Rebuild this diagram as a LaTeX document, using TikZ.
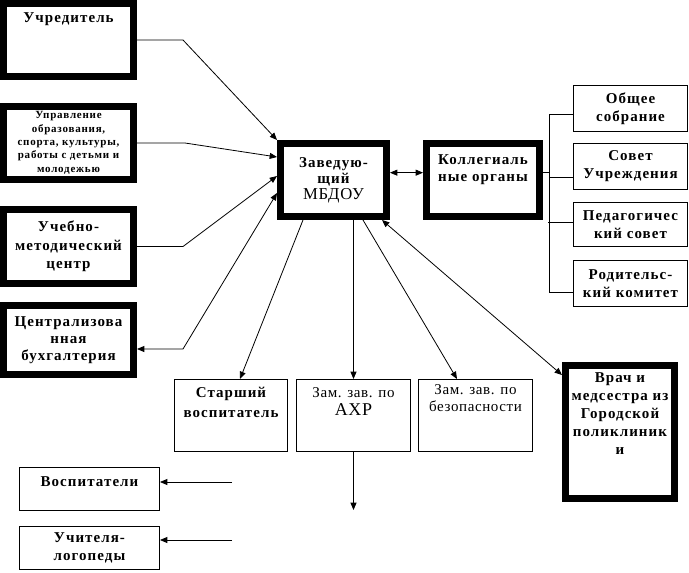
\documentclass[tikz,border=0pt]{standalone}
\usepackage{fontspec}
\setmainfont[LetterSpace=4, BoldFeatures={LetterSpace=7}]{Liberation Serif}
\usetikzlibrary{arrows.meta, positioning}

\begin{document}
\begin{tikzpicture}[
    x=0.75pt, y=-0.75pt,
    >={Triangle[length=5.5pt, width=4.5pt]},
    heavy/.style={rectangle, draw, line width=5.25pt, inner sep=0pt, minimum width=#1},
    light/.style={rectangle, draw, line width=0.75pt, inner sep=0pt, minimum width=#1},
    txt/.style={font=\bfseries\fontsize{11.25}{13.5}\selectfont, align=center, inner sep=0pt},
    small/.style={font=\bfseries\fontsize{8.25}{10}\selectfont, align=center},
    link/.style={line width=0.6pt}
  ]
  \fill[white] (0,0) rectangle (689,572);

  % left column
  \node[heavy=97.5pt, minimum height=54.75pt,
    label={[txt, anchor=north, yshift=-9pt]north:Учредитель}] (uchr) at (68.5,40) {};
  \node[heavy=97.5pt, minimum height=54.75pt, small] (upr) at (68.5,143)
    {Управление\\образования,\\спорта, культуры,\\работы с детьми и\\молодежью};
  \node[heavy=97.5pt, minimum height=55.5pt, txt, font=\bfseries\fontsize{11.25}{13.75}\selectfont]
    (umc) at (68.5,246.5) {Учебно-\\методический\\центр};
  \node[heavy=97.5pt, minimum height=51.75pt, txt, font=\bfseries\fontsize{11.25}{12.75}\selectfont]
    (buh) at (68.5,340) {Централизова\\нная\\бухгалтерия};

  % centre
  \node[heavy=79.5pt, minimum height=54.75pt, txt, font=\bfseries\fontsize{11.25}{12}\selectfont]
    (zav) at (333.5,180) {Заведую-\\щий\\{\mdseries\fontsize{12.5}{12}\selectfont МБДОУ}};
  \node[heavy=84.75pt, minimum height=54.75pt,
    label={[txt, anchor=north, yshift=-10.5pt, font=\bfseries\fontsize{11.25}{12.75}\selectfont]north:Коллегиаль\\ные органы}]
    (koll) at (483,180) {};

  % collegial bodies
  \node[light=85.5pt, minimum height=34.5pt, txt] (obsh) at (630.5,108.5) {Общее\\собрание};
  \node[light=85.5pt, minimum height=34.5pt, txt] (sovet) at (630.5,166.5) {Совет\\Учреждения};
  \node[light=85.5pt, minimum height=33pt, txt] (ped) at (630.5,224.5) {Педагогичес\\кий совет};
  \node[light=85.5pt, minimum height=34.5pt, txt] (rod) at (630.5,283.5) {Родительс-\\кий комитет};

  % deputies
  \node[light=84.75pt, minimum height=54pt,
    label={[txt, anchor=north, yshift=-6pt, font=\bfseries\fontsize{11.25}{15}\selectfont]north:Старший\\воспитатель}]
    (starsh) at (231,415.5) {};
  \node[light=85.5pt, minimum height=54pt,
    label={[txt, anchor=north, yshift=-6pt, font=\fontsize{11.25}{14}\selectfont]north:Зам. зав. по\\{\fontsize{13.5}{14}\selectfont АХР}}]
    (ahr) at (353.5,415.5) {};
  \node[light=85.5pt, minimum height=54pt,
    label={[txt, anchor=north, yshift=-3.75pt, font=\fontsize{11.25}{12.75}\selectfont]north:Зам. зав. по\\безопасности}]
    (bez) at (475.5,415.5) {};
  \node[heavy=81.75pt, minimum height=99.75pt,
    label={[txt, anchor=north, yshift=-7.5pt]north:Врач и\\медсестра из\\Городской\\поликлиник\\и}]
    (vrach) at (620,432) {};

  % staff
  \node[light=105pt, minimum height=32.25pt,
    label={[txt, anchor=north, yshift=-6.75pt]north:Воспитатели}] (vosp) at (89.5,489) {};
  \node[light=105pt, minimum height=32.25pt, txt] (logo) at (89.5,548) {Учителя-\\логопеды};

  % links into the head
  \coordinate (uchrk) at (183,40);
  \coordinate (uprk) at (185,143);
  \coordinate (umck) at (183,246.5);
  \coordinate (buhk) at (183,349);
  \draw[link,->] (uchr.east) -- (uchrk) -- (zav.north west);
  \draw[link,->] (upr.east) -- (uprk) -- ([yshift=17.25pt]zav.west);
  \draw[link,->] (umc.east) -- (umck) -- ([yshift=3pt]zav.west);
  \draw[link,<->] ([yshift=-6.75pt]buh.east) -- (buhk) -- ([yshift=-9.75pt]zav.west);
  \draw[link,<->] ([yshift=5.5pt]zav.east) -- ([yshift=5.5pt]koll.west);

  % links down
  \draw[link,->] ([xshift=-22.875pt]zav.south) -- ([xshift=6.75pt]starsh.north);
  \draw[link,->] (ahr.north |- zav.south) -- (ahr.north);
  \draw[link,->] ([xshift=22.125pt]zav.south) -- ([xshift=-13.875pt]bez.north);
  \draw[link,<->] ([xshift=36.375pt]zav.south) -- ([yshift=-9.75pt]vrach.north west);

  % bracket
  \draw[link] ([yshift=6pt]koll.east) -- ++(6.5,0);
  \draw[link] ([yshift=-4.125pt]obsh.west) -- ++(-23.5,0) |- ([yshift=-6.375pt]rod.west);
  \draw[link] ([yshift=-7.875pt]sovet.west) -- ++(-23.5,0);
  \draw[link] ([yshift=1.875pt]ped.west) -- ++(-25,0);

  % loose ends
  \coordinate (ahrend) at (353.5,510);
  \coordinate (vospk) at (232,482);
  \coordinate (logok) at (232,540);
  \draw[link,->] (ahr.south) -- (ahrend);
  \draw[link,->] (vospk) -- (vospk -| vosp.east);
  \draw[link,->] (logok) -- (logok -| logo.east);
\end{tikzpicture}
\end{document}
